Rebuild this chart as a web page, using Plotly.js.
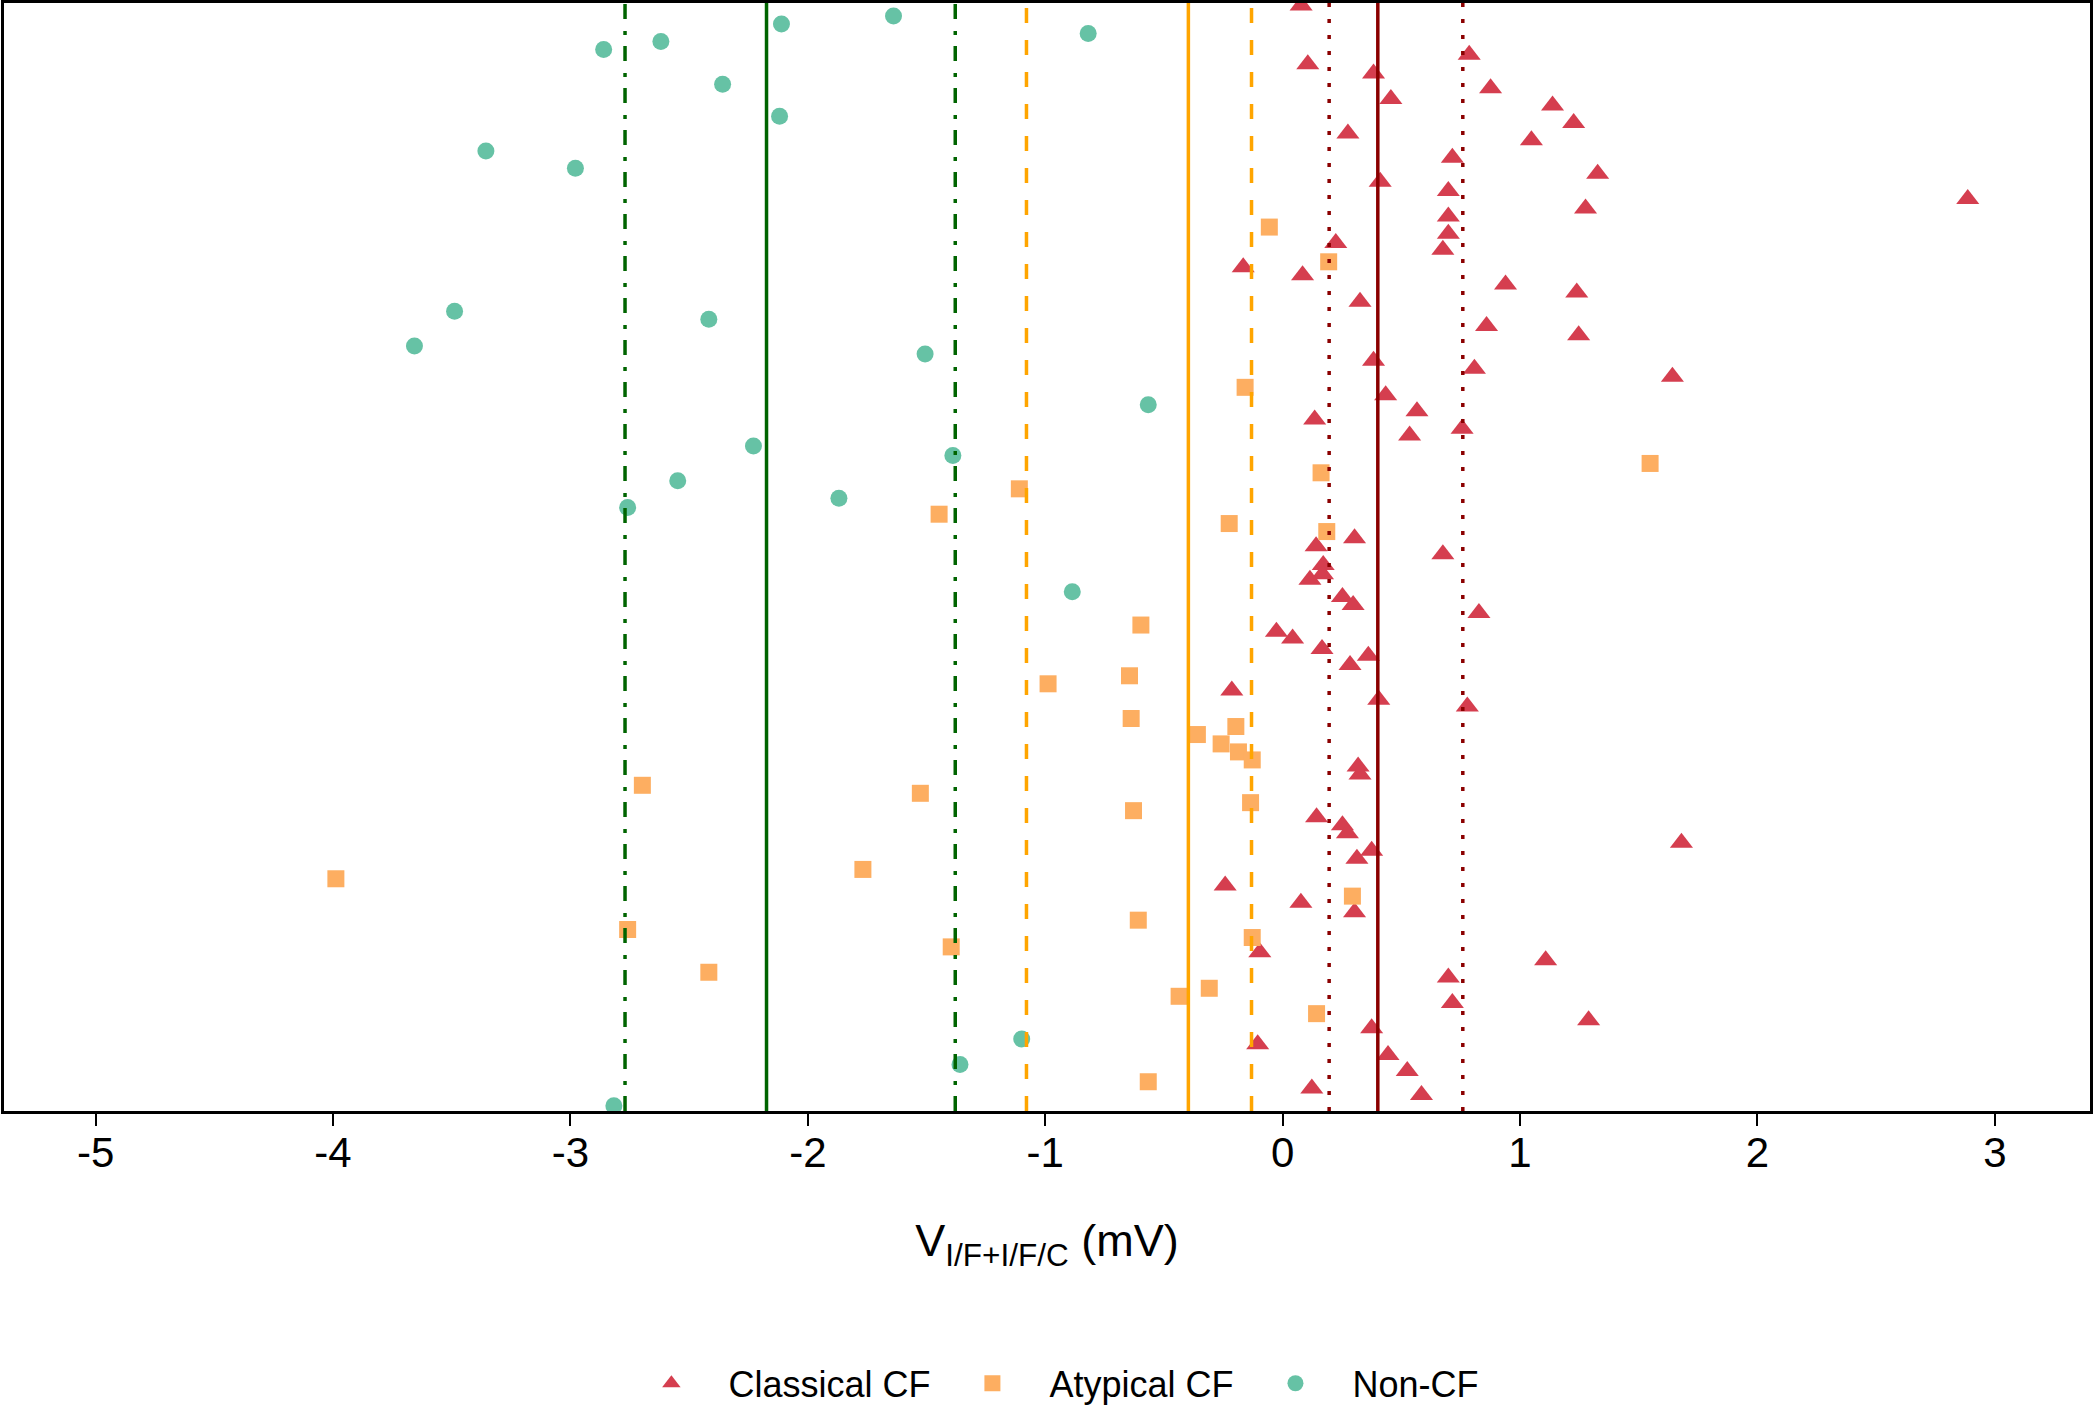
<!DOCTYPE html>
<html>
<head>
<meta charset="utf-8">
<script src="https://cdn.plot.ly/plotly-3.0.1.min.js"></script>
<style>
  html, body { margin: 0; padding: 0; background: #fff; }
  #chart { width: 2094px; height: 1408px; }
</style>
</head>
<body>
<div id="chart"></div>
<script>
// voltage values (mV) and vertical jitter rows
const classicalX = [
  0.078, 0.106, 0.786, 0.383, 0.456, 0.876, 1.137, 1.226, 0.275, 1.048,
  0.715, 1.327, 0.411, 0.698, 2.886, 1.276, 0.698, 0.698, 0.224, 0.675,
  -0.166, 0.084, 0.939, 1.239, 0.326, 0.859, 1.247, 0.383, 0.808, 1.642,
  0.434, 0.566, 0.135, 0.756, 0.535, 0.303, 0.141, 0.675, 0.171, 0.168,
  0.115, 0.252, 0.297, 0.827, -0.026, 0.042, 0.166, 0.361, 0.284, -0.214,
  0.405, 0.778, 0.318, 0.326, 0.143, 0.252, 0.273, 1.680, 0.375, 0.313,
  -0.242, 0.077, 0.303, -0.096, 1.108, 0.698, 0.715, 1.289, 0.375, -0.105,
  0.444, 0.525, 0.123, 0.585
];
const classicalY = [
  4, 48, 41, 55, 74, 66, 79, 92, 100, 105,
  118, 130, 136, 143, 149, 156, 162, 175, 182, 187,
  200, 206, 213, 219, 226, 244, 251, 270, 276, 282,
  296, 308, 314, 321, 326, 403, 409, 415, 423, 430,
  434, 447, 453, 459, 473, 478, 486, 491, 498, 517,
  524, 529, 574, 580, 612, 618, 624, 631, 637, 643,
  663, 676, 683, 713, 719, 732, 751, 764, 770, 782,
  790, 802, 815, 820
];

const atypicalX = [
  -0.056, 0.194, -0.158, 1.548, 0.162, -1.109, -1.447, -0.225, 0.186, -0.597,
  -0.645, -0.988, -0.638, -0.197, -0.359, -0.259, -0.186, -0.128, -2.697, -1.526,
  -0.135, -0.628, -1.768, -3.988, 0.294, -0.608, -2.759, -0.128, -1.396, -2.417,
  -0.309, -0.436, 0.143, -0.566
];
const atypicalY = [
  170, 196, 290, 347, 354, 366, 385, 392, 398, 468,
  506, 512, 538, 544, 550, 557, 563, 569, 588, 594,
  601, 607, 651, 658, 671, 689, 696, 702, 709, 728,
  740, 746, 759, 810
];

const nonCfX = [
  -1.639, -2.111, -0.819, -2.619, -2.860, -2.359, -2.119, -3.356, -2.979, -3.488,
  -2.417, -3.657, -1.506, -0.566, -2.229, -1.389, -2.548, -1.869, -2.759, -0.886,
  -1.099, -1.359, -2.817
];
const nonCfY = [
  12, 18, 25, 31, 37, 63, 87, 113, 126, 233,
  239, 259, 265, 303, 334, 341, 360, 373, 380, 443,
  778, 797, 828
];

// group mean and band lines
const classicalMean = 0.401, classicalBand = [0.196, 0.759];
const atypicalMean = -0.397, atypicalBand = [-1.079, -0.131];
const nonCfMean = -2.174, nonCfBand = [-2.770, -1.379];

const tickVals = [-5, -4, -3, -2, -1, 0, 1, 2, 3];
const tickText = ['-5', '-4', '-3', '-2', '-1', '0', '1', '2', '3'];

const fontFamily = 'Liberation Sans, Arial, sans-serif';

function vline(x, color, dash) {
  return {
    type: 'line', xref: 'x', yref: 'paper',
    x0: x, x1: x, y0: 0, y1: 1,
    line: { color: color, width: 3.5, dash: dash }
  };
}

let traces = [
  {
    type: 'scatter', mode: 'markers', name: 'Classical CF',
    x: classicalX, y: classicalY,
    marker: { symbol: 'triangle-up', size: 20, color: '#D53E4F' }
  },
  {
    type: 'scatter', mode: 'markers', name: 'Atypical CF',
    x: atypicalX, y: atypicalY,
    marker: { symbol: 'square', size: 17, color: '#FDAE61' }
  },
  {
    type: 'scatter', mode: 'markers', name: 'Non-CF',
    x: nonCfX, y: nonCfY,
    marker: { symbol: 'circle', size: 17, color: '#66C2A5' }
  }
];

let shapes = [
  vline(nonCfMean, '#006400', 'solid'),
  vline(nonCfBand[0], '#006400', '15px,11px,4px,12px'),
  vline(nonCfBand[1], '#006400', '15px,11px,4px,12px'),
  vline(atypicalMean, '#FFA500', 'solid'),
  vline(atypicalBand[0], '#FFA500', '15px,17px'),
  vline(atypicalBand[1], '#FFA500', '15px,17px'),
  vline(classicalMean, '#8B0000', 'solid'),
  vline(classicalBand[0], '#8B0000', '4px,12px'),
  vline(classicalBand[1], '#8B0000', '4px,12px')
];

let layout = {
  width: 2094,
  height: 1408,
  paper_bgcolor: '#ffffff',
  plot_bgcolor: '#ffffff',
  font: { family: fontFamily, color: '#000000' },
  margin: { l: 4, r: 4, t: 3, b: 297 },
  showlegend: true,
  legend: {
    orientation: 'h',
    xref: 'container', yref: 'container',
    x: 0.2934, xanchor: 'left',
    y: 0.0175, yanchor: 'middle',
    itemwidth: 104,
    font: { family: fontFamily, size: 36, color: '#000000' }
  },
  xaxis: {
    range: [-5.386, 3.401],
    tickvals: tickVals,
    ticktext: tickText,
    ticks: 'outside', ticklen: 12, tickwidth: 2, tickcolor: '#000000',
    ticklabelstandoff: -9,
    tickfont: { family: fontFamily, size: 42, color: '#000000' },
    showgrid: false, zeroline: false,
    showline: true, mirror: true, linecolor: '#000000', linewidth: 3,
    automargin: false,
    title: {
      text: 'V<sub>I/F+I/F/C</sub> (mV)',
      font: { family: fontFamily, size: 45, color: '#000000' },
      standoff: 50
    }
  },
  yaxis: {
    range: [831.9, 2.2],
    showticklabels: false, ticks: '',
    showgrid: false, zeroline: false,
    showline: true, mirror: true, linecolor: '#000000', linewidth: 3,
    automargin: false
  },
  shapes: shapes
};

Plotly.newPlot('chart', traces, layout, { staticPlot: true });
</script>
</body>
</html>
